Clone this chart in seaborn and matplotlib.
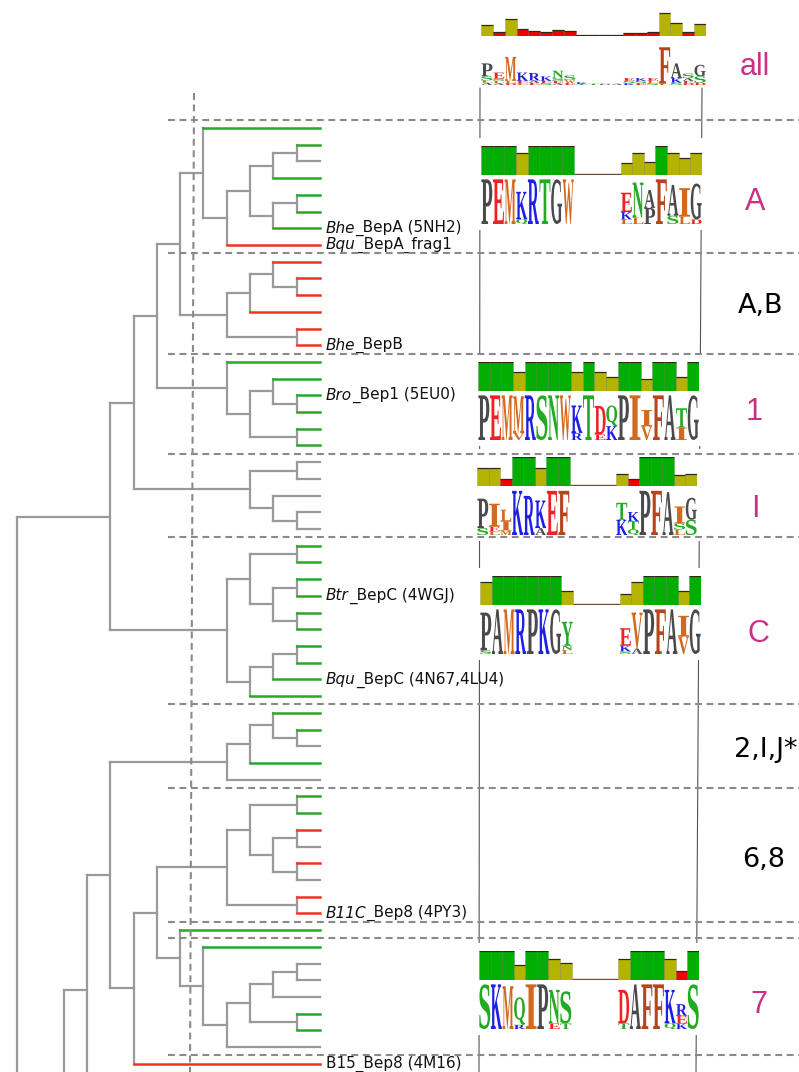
import numpy as np
import matplotlib
matplotlib.use("Agg")
import matplotlib.pyplot as plt
import seaborn as sns
from matplotlib.collections import LineCollection
from matplotlib.font_manager import FontProperties
from matplotlib.patches import PathPatch, Rectangle
from matplotlib.textpath import TextPath
from matplotlib.transforms import Affine2D

# --- tree: newick with branch lengths in depth steps, leaf name = branch colour ---
CLADE_A = "(g:5,((((g:1,k:1):1,g:2):1,((g:1,g:1):1,g:2):1):1,r:4):1)"
CLADE_AB = "(((r:2,(r:1,r:1):1):1,r:3):1,(r:1,r:1):3)"
CLADE_1 = "(g:4,((g:2,(g:1,g:1):1):1,(g:1,g:1):2):1)"
CLADE_I = "((k:1,k:1):2,(k:2,(k:1,k:1):1):1)"
CLADE_C = "(((g:1,g:1):2,((g:1,g:1):1,(g:1,g:1):1):1):1,(((g:1,g:1):1,g:2):1,g:3):1)"
CLADE_2IJ = "(((g:2,(g:1,k:1):1):1,g:3):1,k:4)"
CLADE_68 = "(((g:1,g:1):2,((r:1,k:1):1,(r:1,k:1):1):1):1,(r:1,r:1):3)"
CLADE_7 = "(g:6,(g:5,((((k:1,k:1):1,k:2):1,(g:1,g:1):2):1,k:4):1):1)"
CLADE_CUT = "((h:1,h:1):8,(h:1,h:1):8)"   # rest of the tree, below the cut

UPPER = f"(((({CLADE_A}:1,{CLADE_AB}:2):1,{CLADE_1}:3):1,{CLADE_I}:5):1,{CLADE_C}:5)"
LOWER = f"((({CLADE_2IJ}:5,(({CLADE_68}:3,{CLADE_7}:1):1,r:8):1):1,{CLADE_CUT}:1):1,{CLADE_CUT}:2)"
NEWICK = f"({UPPER}:4,{LOWER}:2);"

LABEL_LEAF = [6, 7, 13, 16, 28, 33, 47, 56]
LABEL_SPECIES = ["Bhe", "Bqu", "Bhe", "Bro", "Btr", "Bqu", "B11C", ""]
LABEL_REST = ["_BepA (5NH2)", "_BepA_frag1", "_BepB", "_Bep1 (5EU0)", "_BepC (4WGJ)",
              "_BepC (4N67,4LU4)", "_Bep8 (4PY3)", "B15_Bep8 (4M16)"]

# first leaf under each dashed separator
GROUP_START = [0, 8, 14, 20, 25, 35, 40, 48, 49, 56]
GROUP_NAMES = ["all", "A", "A,B", "1", "I", "C", "2,I,J*", "6,8", "7"]
GROUP_HAS_LOGO = [True, True, False, True, True, True, False, False, True]

# --- logos: conservation (0-1) and letter stacks (letter + percent, top to bottom) ---
LOGO_NAMES = ["all", "A", "1", "I", "C", "7"]
cons_all = [0.38, 0.15, 0.58, 0.23, 0.17, 0.14, 0.20, 0.16, 0.04, 0.04, 0.04, 0.04,
            0.10, 0.11, 0.14, 0.80, 0.46, 0.14, 0.40]
seq_all = ["P28 S09 L05 A05", "E13 S05 L05 A04", "M52 L05 D04", "K18 E05 L04", "R16 A05 E05",
           "K10 E05 S04", "N16 S06 E05 A04", "S10 W07 E04", "K04 T02", "T03", "G03", "A03",
           "E06 S05 K04", "K06 S05 E04", "E06 L05 S04", "F79 L03", "A32 K10 S05",
           "S10 A06 E05 D04", "G25 S14 D05"]
cons_A = [1, 1, 1, 0.76, 1, 1, 1, 1, 0, 0, 0, 0, 0.41, 0.76, 0.45, 1, 0.76, 0.59, 0.76]
seq_A = ["P97", "E97", "M97", "K60 Q10", "R97", "T97", "G97", "W97", "", "", "", "",
         "E42 K16 L10", "N76 L14", "A39 P35", "F97", "A67 S18", "I62 L16", "G78 D10"]
cons_1 = [1, 1, 1, 0.67, 1, 1, 1, 1, 0.65, 1, 0.65, 0.47, 1, 1, 0.42, 1, 1, 0.47, 1]
seq_1 = ["P97", "E97", "M97", "M80 V15", "R97", "S97", "N97", "W97", "K60 R15", "T97",
         "D62 E12", "Q45 K30", "P97", "I97", "I35 V30", "F97", "A97", "T42 I27", "G97"]
cons_I = [0.62, 0.62, 0.23, 1, 1, 0.62, 1, 1, 0, 0, 0, 0, 0.43, 0.23, 1, 1, 1, 0.37, 0.43]
seq_I = ["P64 S15", "I50 E10 L08", "L25 I20 M10", "K96", "R85", "K60 A15", "E96", "F96",
         "", "", "", "", "T37 K33", "K20 T18 Q12", "P96", "F96", "A93", "I37 S13 L12", "G48 S33"]
cons_C = [0.81, 1, 1, 1, 1, 1, 1, 0.5, 0, 0, 0, 0, 0.38, 0.81, 1, 1, 1, 0.47, 1]
seq_C = ["P82 S08", "A97", "M97", "R97", "P97", "K97", "G97", "Y52 N10 L08", "", "", "", "",
         "E38 K12 S06", "V78 A12", "P97", "F97", "A97", "I45 V38", "G97"]
cons_7 = [1, 1, 1, 0.51, 1, 1, 0.74, 0.57, 0, 0, 0, 0, 0.74, 1, 1, 1, 0.74, 0.32, 1]
seq_7 = ["S97", "K97", "M93", "Q60 R09", "I97", "P97", "N73 E12", "S70 T12", "", "", "", "",
         "D73 T12", "A97", "F97", "F97", "K73 Q12", "R25 E17 K12", "S97"]
LOGO_CONS = [cons_all, cons_A, cons_1, cons_I, cons_C, cons_7]
LOGO_SEQ = [seq_all, seq_A, seq_1, seq_I, seq_C, seq_7]

# --- layout (pixels) ---
W, H = 799, 1072
X_ROOT, X_STEP = 17, 23.3
Y_LEAF0, Y_STEP = 128, 16.71
LOGO_TOP = [7, 146, 362, 457, 576, 951]
LOGO_X = [(481, 706), (481, 702), (478, 699), (477, 697), (480, 701), (479, 699)]
NAME_POS = [(755, 75), (755, 210), (761, 313), (754, 420), (755, 517), (758, 642),
            (766, 757), (764, 867), (759, 1013)]

BRANCH = {"g": "#2ba52b", "r": "#ee3322", "k": "#9a9a9a", "h": "#9a9a9a"}
BAR_COL = {"high": "#00ad00", "mid": "#b4b400", "low": "#f00000"}
AA_COL = {}
for aa in "PGA":
    AA_COL[aa] = "#4a4a4a"
for aa in "MWILV":
    AA_COL[aa] = "#d2691e"
AA_COL["F"] = "#b5461c"
for aa in "STNQYC":
    AA_COL[aa] = "#22aa22"
for aa in "KRH":
    AA_COL[aa] = "#1e1ee6"
for aa in "DE":
    AA_COL[aa] = "#ee2222"
MAGENTA = "#cc2f86"

sns.set_theme(style="white")
plt.rcParams["font.family"] = ["Liberation Sans", "DejaVu Sans"]


def parse_newick(s):
    pos = 0

    def node():
        nonlocal pos
        kids = []
        if s[pos] == "(":
            pos += 1
            kids.append(node())
            while s[pos] == ",":
                pos += 1
                kids.append(node())
            pos += 1
        name = ""
        while s[pos] not in ",():;":
            name += s[pos]
            pos += 1
        length = 0.0
        if s[pos] == ":":
            pos += 1
            num = ""
            while s[pos] not in ",();":
                num += s[pos]
                pos += 1
            length = float(num)
        return {"name": name, "len": length, "kids": kids}

    return node()


tree = parse_newick(NEWICK)
leaves = []


def place(nd, depth):
    nd["x"] = X_ROOT + X_STEP * depth
    if not nd["kids"]:
        nd["y"] = Y_LEAF0 + Y_STEP * len(leaves)
        leaves.append(nd)
    else:
        for k in nd["kids"]:
            place(k, depth + k["len"])
        nd["y"] = (nd["kids"][0]["y"] + nd["kids"][-1]["y"]) / 2


place(tree, 0)

segs = {c: [] for c in BRANCH}


def collect(nd):
    if not nd["kids"]:
        return
    segs["k"].append([(nd["x"], nd["kids"][0]["y"]), (nd["x"], nd["kids"][-1]["y"])])
    for k in nd["kids"]:
        col = k["name"] if not k["kids"] else "k"
        segs[col].append([(nd["x"], k["y"]), (k["x"], k["y"])])
        collect(k)


collect(tree)

fig = plt.figure(figsize=(W / 100, H / 100), dpi=100)
ax = fig.add_axes([0, 0, 1, 1])
ax.set_xlim(0, W)
ax.set_ylim(H, 0)
ax.axis("off")

for col in ["k", "h", "g", "r"]:
    if segs[col]:
        ax.add_collection(LineCollection(segs[col], colors=BRANCH[col],
                                         linewidths=1.6 if col in "kh" else 1.8,
                                         capstyle="projecting", zorder=2 if col in "kh" else 2.5))

# leaf labels
for leaf, sp, rest in zip(LABEL_LEAF, LABEL_SPECIES, LABEL_REST):
    y = leaves[leaf]["y"]
    if sp:
        t = ax.text(326, y, sp, style="italic", fontsize=11, family="DejaVu Sans",
                    va="center", ha="left", color="#111111")
        ax.annotate(rest, xy=(1, 0.5), xycoords=t, va="center", ha="left",
                    fontsize=11, family="DejaVu Sans", color="#111111")
    else:
        ax.text(326, y, rest, fontsize=11, family="DejaVu Sans", va="center",
                ha="left", color="#111111")

# separators
for g in GROUP_START:
    y = Y_LEAF0 + Y_STEP * (g - 0.5)
    ax.plot([168, W], [y, y], color="#8a8a8a", lw=1.5, dashes=(3.3, 2.2), zorder=5)
ax.plot([194, 190], [93, H], color="#8a8a8a", lw=1.5, dashes=(3.3, 2.2), zorder=5)

# frame lines of the logo column
ax.plot([480, 479], [88, H], color="#555555", lw=0.8, zorder=1)
ax.plot([702, 696], [88, H], color="#555555", lw=0.8, zorder=1)

# group names
for name, logo, (x, y) in zip(GROUP_NAMES, GROUP_HAS_LOGO, NAME_POS):
    if logo:
        ax.text(x, y, name, ha="center", va="baseline", fontsize=22, color=MAGENTA,
                family="Liberation Sans")
    else:
        ax.text(x, y, name, ha="center", va="baseline", fontsize=19.5, color="black",
                family="DejaVu Sans")

FP = FontProperties(family="Liberation Serif", weight="bold")


def draw_letter(lax, ch, x, y, w, h):
    tp = TextPath((0, 0), ch, size=1, prop=FP)
    bb = tp.get_extents()
    tr = Affine2D().translate(-bb.x0, -bb.y0).scale(w / bb.width, h / bb.height).translate(x, y)
    lax.add_patch(PathPatch(tr.transform_path(tp), fc=AA_COL[ch], ec="none", lw=0))


def fig_box(x0, x1, y0, y1):
    return [x0 / W, 1 - y1 / H, (x1 - x0) / W, (y1 - y0) / H]


for name, cons, seq, top, (x0, x1) in zip(LOGO_NAMES, LOGO_CONS, LOGO_SEQ, LOGO_TOP, LOGO_X):
    if name != "all":
        ax.add_patch(Rectangle((x0 - 4, top - 8), x1 - x0 + 8, 92, fc="white", ec="none", zorder=3))
    ncol = len(cons)
    cols = np.arange(ncol)
    vals = np.array(cons, dtype=float)
    level = ["high" if v >= 0.95 else ("mid" if v >= 0.35 else "low") for v in vals]

    bax = fig.add_axes(fig_box(x0, x1, top, top + 29))
    bax.patch.set_alpha(0)
    sns.barplot(x=cols, y=vals, hue=level, palette=BAR_COL, dodge=False, width=1.0,
                saturation=1, legend=False, ax=bax, edgecolor=(0, 0, 0, 0.18), linewidth=0.5)
    shown = vals > 0
    bax.hlines(vals[shown], cols[shown] - 0.5, cols[shown] + 0.5, color="#2b2b18", lw=0.9)
    gap = np.where(~shown)[0]
    if len(gap):
        bax.hlines(0.02, gap.min() - 0.5, gap.max() + 0.5, color="#6e4a3c", lw=1.0)
    bax.set_xlim(-0.5, ncol - 0.5)
    bax.set_ylim(0, 1)
    bax.axis("off")

    lax = fig.add_axes(fig_box(x0, x1, top + 32, top + 78))
    lax.patch.set_alpha(0)
    lax.set_xlim(-0.5, ncol - 0.5)
    lax.set_ylim(0, 1)
    lax.axis("off")
    for i, stack in enumerate(seq):
        y = 0.0
        for tok in reversed(stack.split()):
            h = int(tok[1:]) / 100
            draw_letter(lax, tok[0], i - 0.47, y, 0.94, h)
            y += h

fig.savefig("out.png", dpi=100)
